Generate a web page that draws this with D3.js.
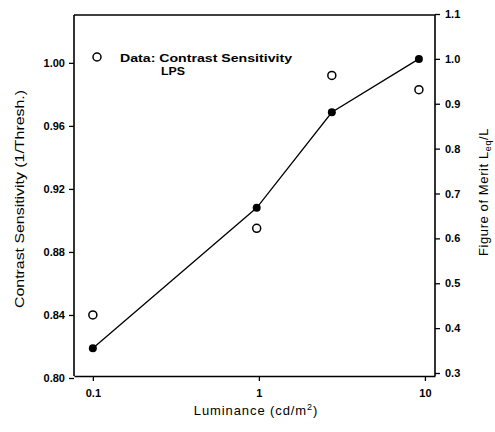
<!DOCTYPE html>
<html>
<head>
<meta charset="utf-8">
<script src="https://cdn.jsdelivr.net/npm/d3@7"></script>
<style>
  body { margin: 0; background: #fff; }
  text { font-family: "Liberation Sans", Arial, sans-serif; fill: #000; }
</style>
</head>
<body>
<div id="container"></div>
<script>
/* DATA */
const luminance = [0.1, 0.97, 2.75, 9.2];         // cd/m^2
const contrastSens = [0.84, 0.895, 0.992, 0.983]; // open circles, left axis
const meritLine = [0.355, 0.668, 0.881, 1.0];     // filled dots, right axis

const leftTicks = [0.80, 0.84, 0.88, 0.92, 0.96, 1.00];
const rightTicks = [0.3, 0.4, 0.5, 0.6, 0.7, 0.8, 0.9, 1.0, 1.1];
const xTicks = [0.1, 1, 10];

/* CONSTANTS */
const width = 495, height = 432;
const margin = { top: 15, bottom: 56, left: 74, right: 60 };

const svg = d3.select("#container")
  .append("svg")
  .attr("width", width)
  .attr("height", height);

// scales
const xScale = d3.scaleLog()
  .domain([0.077, 11.5])
  .range([margin.left, width - margin.right]);

const yLeft = d3.scaleLinear()
  .domain([0.80, 1.03])
  .range([378, 15.6]);

const yRight = d3.scaleLinear()
  .domain([0.3, 1.1])
  .range([373, 14]);

// axes
const xAxis = d3.axisBottom(xScale)
  .tickValues(xTicks)
  .tickFormat(d => d3.format("~g")(d))
  .tickSize(5).tickSizeOuter(0).tickPadding(8);

const leftAxis = d3.axisLeft(yLeft)
  .tickValues(leftTicks)
  .tickFormat(d3.format(".2f"))
  .tickSize(5).tickSizeOuter(0).tickPadding(4);

const rightAxis = d3.axisRight(yRight)
  .tickValues(rightTicks)
  .tickFormat(d3.format(".1f"))
  .tickSize(5).tickSizeOuter(0).tickPadding(5);

// top frame line
svg.append("line")
  .attr("x1", margin.left).attr("x2", width - margin.right)
  .attr("y1", margin.top).attr("y2", margin.top)
  .attr("stroke", "#000").attr("stroke-width", 1.6);

const gx = svg.append("g")
  .attr("transform", `translate(0,${height - margin.bottom})`)
  .call(xAxis);
const gl = svg.append("g")
  .attr("transform", `translate(${margin.left},0)`)
  .call(leftAxis);
const gr = svg.append("g")
  .attr("transform", `translate(${width - margin.right},0)`)
  .call(rightAxis);

// stretch the vertical domains to the frame
gl.select(".domain").attr("d", `M0,${margin.top}V${height - margin.bottom}`);
gr.select(".domain").attr("d", `M0,${margin.top}V${height - margin.bottom}`);

[gx, gl, gr].forEach(g => {
  g.select(".domain").attr("stroke-width", 1.6);
  g.selectAll(".tick line").attr("stroke-width", 1.3);
  g.selectAll(".tick text")
    .attr("font-size", 11)
    .attr("font-weight", "bold")
    .style("font-family", "'Liberation Sans', Arial, sans-serif");
});

// line + filled dots (figure of merit)
const line = d3.line()
  .x((d, i) => xScale(luminance[i]))
  .y(d => yRight(d));

svg.append("path")
  .datum(meritLine)
  .attr("d", line)
  .attr("fill", "none")
  .attr("stroke", "#000")
  .attr("stroke-width", 1.3);

svg.selectAll("circle.merit")
  .data(meritLine)
  .join("circle")
  .attr("class", "merit")
  .attr("cx", (d, i) => xScale(luminance[i]))
  .attr("cy", d => yRight(d))
  .attr("r", 4)
  .attr("fill", "#000");

// open circles (contrast sensitivity)
svg.selectAll("circle.cs")
  .data(contrastSens)
  .join("circle")
  .attr("class", "cs")
  .attr("cx", (d, i) => xScale(luminance[i]))
  .attr("cy", d => yLeft(d))
  .attr("r", 4)
  .attr("fill", "#fff")
  .attr("stroke", "#000")
  .attr("stroke-width", 1.5);

// legend
svg.append("circle")
  .attr("cx", 97).attr("cy", 57).attr("r", 4)
  .attr("fill", "#fff").attr("stroke", "#000").attr("stroke-width", 1.5);
svg.append("text")
  .attr("x", 120).attr("y", 62)
  .attr("font-size", 11).attr("font-weight", "bold")
  .attr("textLength", 172).attr("lengthAdjust", "spacingAndGlyphs")
  .text("Data: Contrast Sensitivity");
svg.append("text")
  .attr("x", 161).attr("y", 75)
  .attr("font-size", 11).attr("font-weight", "bold")
  .attr("textLength", 24).attr("lengthAdjust", "spacingAndGlyphs")
  .text("LPS");

// axis titles
svg.append("text")
  .attr("text-anchor", "middle")
  .attr("transform", `translate(24,199) rotate(-90)`)
  .attr("font-size", 13)
  .attr("textLength", 218).attr("lengthAdjust", "spacingAndGlyphs")
  .text("Contrast Sensitivity (1/Thresh.)");

const rt = svg.append("text")
  .attr("text-anchor", "middle")
  .attr("transform", `translate(488,192) rotate(-90)`)
  .attr("font-size", 13)
  .attr("letter-spacing", 0.6);
rt.append("tspan").text("Figure of Merit L");
rt.append("tspan").attr("font-size", 9).attr("dy", 3).text("eq");
rt.append("tspan").attr("dy", -3).text("/L");

const xt = svg.append("text")
  .attr("text-anchor", "middle")
  .attr("x", 256).attr("y", 415)
  .attr("font-size", 13)
  .attr("letter-spacing", 0.9);
xt.append("tspan").text("Luminance (cd/m");
xt.append("tspan").attr("font-size", 9).attr("dy", -5).text("2");
xt.append("tspan").attr("dy", 5).text(")");
</script>
</body>
</html>
